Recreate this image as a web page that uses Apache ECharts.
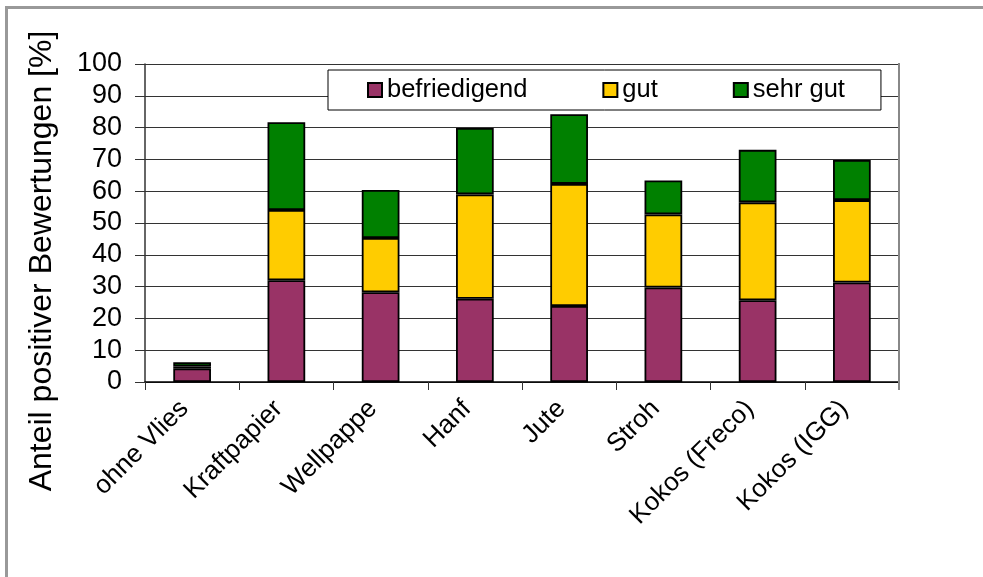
<!DOCTYPE html>
<html>
<head>
<meta charset="utf-8">
<script src="https://cdn.jsdelivr.net/npm/echarts@6/dist/echarts.min.js"></script>
<style>
html,body{margin:0;padding:0;background:#fff;}
#c{width:983px;height:577px;}
</style>
</head>
<body>
<div id="c"></div>
<script>
const categories = ['ohne Vlies','Kraftpapier','Wellpappe','Hanf','Jute','Stroh','Kokos (Freco)','Kokos (IGG)'];
const befriedigend = [4.3, 32.0, 28.2, 26.2, 23.9, 29.7, 25.7, 31.3];
const gut = [0.6, 22.1, 17.1, 32.8, 38.4, 23.0, 30.8, 25.9];
const sehrGut = [1.3, 27.6, 15.1, 20.9, 21.9, 10.7, 16.5, 12.6];
const yTicks = {min: 0, max: 100, interval: 10};
const yTitle = 'Anteil positiver Bewertungen [%]';

const FONT = 'Liberation Sans, Arial, sans-serif';
const chart = echarts.init(document.getElementById('c'), null, {renderer: 'canvas'});

function barSeries(name, data, color) {
  return {
    name: name, type: 'bar', stack: 'total', data: data, barWidth: '40%',
    itemStyle: {color: color, borderColor: '#000', borderWidth: 1.8},
    emphasis: {disabled: true}
  };
}

chart.setOption({
  animation: false,
  backgroundColor: '#fff',
  textStyle: {fontFamily: FONT},
  grid: {left: 145, right: 84, top: 64, bottom: 195, containLabel: false},
  legend: {
    left: 328, top: 70,
    padding: [7, 36, 7, 39],
    itemGap: 75, itemWidth: 14, itemHeight: 14, itemTextGap: 11,
    backgroundColor: '#fff', borderColor: '#000', borderWidth: 1, borderRadius: 0,
    icon: 'rect',
    textStyle: {fontSize: 25.5, color: '#000', fontFamily: FONT},
    data: ['befriedigend', 'gut', 'sehr gut']
  },
  xAxis: {
    type: 'category', data: categories, boundaryGap: true,
    axisLine: {lineStyle: {color: '#000', width: 1.5}},
    axisTick: {show: true, alignWithLabel: false, length: 8, lineStyle: {color: '#333'}},
    axisLabel: {interval: 0, rotate: 45, fontSize: 26, color: '#000', margin: 15,
                padding: [0, 11, 0, 0], fontFamily: FONT}
  },
  yAxis: {
    type: 'value', min: yTicks.min, max: yTicks.max, interval: yTicks.interval,
    axisLine: {show: true, lineStyle: {color: '#333', width: 1.5}},
    axisTick: {show: true, length: 10, lineStyle: {color: '#333'}},
    axisLabel: {fontSize: 27, color: '#000', margin: 23, fontFamily: FONT},
    splitLine: {show: true, lineStyle: {color: '#333', width: 1}}
  },
  series: [
    barSeries('befriedigend', befriedigend, '#993366'),
    barSeries('gut', gut, '#FFCC00'),
    barSeries('sehr gut', sehrGut, '#008000')
  ],
  graphic: [
    {type: 'rect', z: 100, silent: true,
     shape: {x: 6.5, y: 7.5, width: 1100, height: 700},
     style: {fill: 'none', stroke: '#999', lineWidth: 3}},
    {type: 'line', z: 50, silent: true,
     shape: {x1: 899, y1: 63, x2: 899, y2: 390},
     style: {stroke: '#888', lineWidth: 2}},
    {type: 'text', z: 100, silent: true,
     x: 42, y: 261, rotation: Math.PI / 2,
     style: {text: yTitle, fontSize: 32, fontFamily: FONT, fill: '#000', align: 'center', verticalAlign: 'middle'}}
  ]
});
</script>
</body>
</html>
